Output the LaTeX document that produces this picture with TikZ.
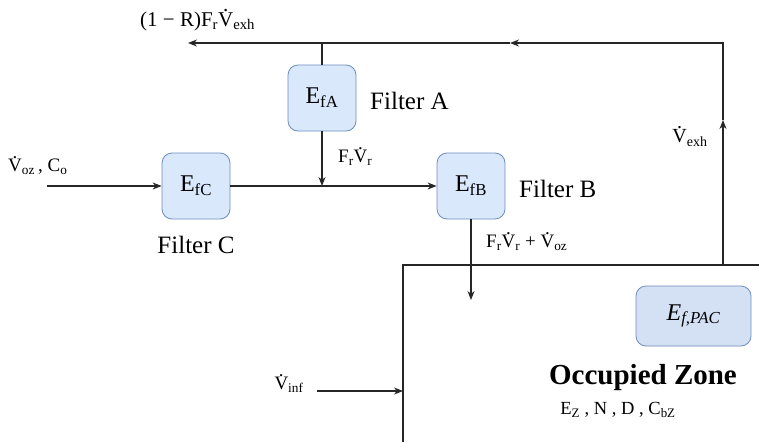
\documentclass[tikz,border=0pt]{standalone}
\usepackage{fontspec}
\setmainfont{Liberation Serif}
\usetikzlibrary{arrows.meta}
\definecolor{boxfill}{HTML}{DAE8FC}
\definecolor{pacfill}{HTML}{D4E1F5}
\definecolor{boxedge}{HTML}{6C8EBF}
\newcommand\Vd{\leavevmode\hbox{\ooalign{V\cr\hidewidth\raisebox{0.7em}[0pt][0pt]{.}\hidewidth\cr}}}
\begin{document}
\begin{tikzpicture}[x=1pt,y=-1pt,
 filt/.style={draw=boxedge, fill=boxfill, rounded corners=10pt, line width=0.8pt, minimum width=68pt, minimum height=66pt, inner sep=0pt, font=\fontsize{24}{28}\selectfont},
 flow/.style={line width=1.1pt, draw=black!85},
 tip/.style={-{Stealth[length=9pt,width=7pt]}},
 lbl/.style={font=\fontsize{25}{29}\selectfont, inner sep=0pt},
 small/.style={font=\fontsize{19}{22}\selectfont, inner sep=0pt}]
\useasboundingbox (0,0) rectangle (759,442);
\node[filt] (A) at (322,98) {E\textsubscript{fA}};
\node[filt] (C) at (196,186) {E\textsubscript{fC}};
\node[filt] (B) at (471,186) {E\textsubscript{fB}};
\node[filt, fill=pacfill, minimum width=115pt, minimum height=60pt] (P) at (693.5,316) {\textit{E}\textsubscript{\textit{f,PAC}}};
\coordinate (tl) at (188,43);
\coordinate (ta) at (322,43);
\coordinate (tm) at (510,43);
\coordinate (tr) at (723,43);
\coordinate (ru) at (723,120);
\coordinate (zr) at (723,265);
\coordinate (j) at (322,186);
\coordinate (cin) at (47,186);
\coordinate (bout) at (471,300);
\coordinate (z1) at (759,265);
\coordinate (z0) at (403,265);
\coordinate (z2) at (403,442);
\coordinate (iin) at (317,391);
\coordinate (iend) at (403,391);
\draw[flow,tip] (zr) -- (ru);
\draw[flow,tip] (ru) -- (tr) -- (tm);
\draw[flow,tip] (tm) -- (tl);
\draw[flow] (ta) -- (A.north);
\draw[flow,tip] (A.south) -- (j);
\draw[flow,tip] (cin) -- (C.west);
\draw[flow,tip] (C.east) -- (B.west);
\draw[flow,tip] (B.south) -- (bout);
\draw[flow] (z1) -- (z0) -- (z2);
\draw[flow,tip] (iin) -- (iend);
\node[small, font=\fontsize{21}{24}\selectfont, anchor=west] (lt) at (140,21) {(1 − R)F\textsubscript{r}\Vd\textsubscript{exh}};
\node[lbl, anchor=west] (la) at (370,101) {Filter A};
\node[small, anchor=west] (lfr) at (338,158) {F\textsubscript{r}\Vd\textsubscript{r}};
\node[small, anchor=west] (lin) at (8,167) {\Vd\textsubscript{oz}\,, C\textsubscript{o}};
\node[lbl] (lc) at (196,245) {Filter C};
\node[lbl, anchor=west] (lb) at (519,189) {Filter B};
\node[small, anchor=west] (lbo) at (486,243) {F\textsubscript{r}\Vd\textsubscript{r} + \Vd\textsubscript{oz}};
\node[small, font=\fontsize{20}{23}\selectfont] (lex) at (690,138) {\Vd\textsubscript{exh}};
\node[font=\fontsize{29}{34}\selectfont\bfseries, inner sep=0pt] (oz) at (643,378) {Occupied Zone};
\node[font=\fontsize{18.5}{22}\selectfont, inner sep=0pt] (ez) at (618,410) {E\textsubscript{Z} , N , D , C\textsubscript{bZ}};
\node[small] (linf) at (289,385) {\Vd\textsubscript{inf}};
\end{tikzpicture}
\end{document}
